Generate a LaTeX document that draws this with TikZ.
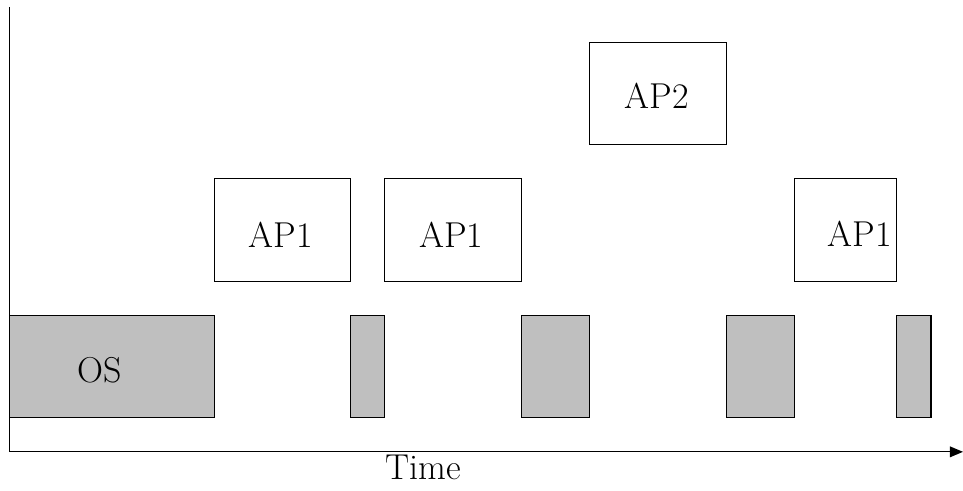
\documentclass[tikz,border=0pt]{standalone}
\usetikzlibrary{arrows.meta}
\definecolor{Grey}{RGB}{191,191,191}

\begin{document}
\begin{tikzpicture}[
        font=\fontsize{30}{36}\selectfont,
        os/.style = {draw, fill=Grey, inner sep=0pt, minimum height=3cm},
        ap/.style = {draw, fill=white, inner sep=0pt, minimum height=3cm},
        line width=1pt
    ]
    \useasboundingbox (-0.278,-1.14) rectangle (27.94,13.24);

    \coordinate (Or) at (0,0);
    \coordinate (Top) at (0,13.04);
    \coordinate (End) at (27.94,0);
    \draw[-{Triangle[length=11pt, width=9pt]}] (Top) -- (Or) -- (End);

    \node (O1) at (3,2.5)    [os, minimum width=6cm] {};
    \node (O2) at (10.5,2.5) [os, minimum width=1cm] {};
    \node (O3) at (16,2.5)   [os, minimum width=2cm] {};
    \node (O4) at (22,2.5)   [os, minimum width=2cm] {};
    \node (O5) at (26.5,2.5) [os, minimum width=1cm] {};

    \node (A1) at (8,6.5)   [ap, minimum width=4cm] {};
    \node (A2) at (13,6.5)  [ap, minimum width=4cm] {};
    \node (A3) at (19,10.5) [ap, minimum width=4cm] {};
    \node (A4) at (24.5,6.5) [ap, minimum width=3cm] {};

    \node (LO) at (2.65,2.4)  {OS};
    \node (L1) at (7.95,6.37) {AP1};
    \node (L2) at (12.94,6.37) {AP1};
    \node (L3) at (18.96,10.42) {AP2};
    \node (L4) at (24.92,6.4) {AP1};

    \node (T) at (12.12,-0.47) {Time};
\end{tikzpicture}
\end{document}
